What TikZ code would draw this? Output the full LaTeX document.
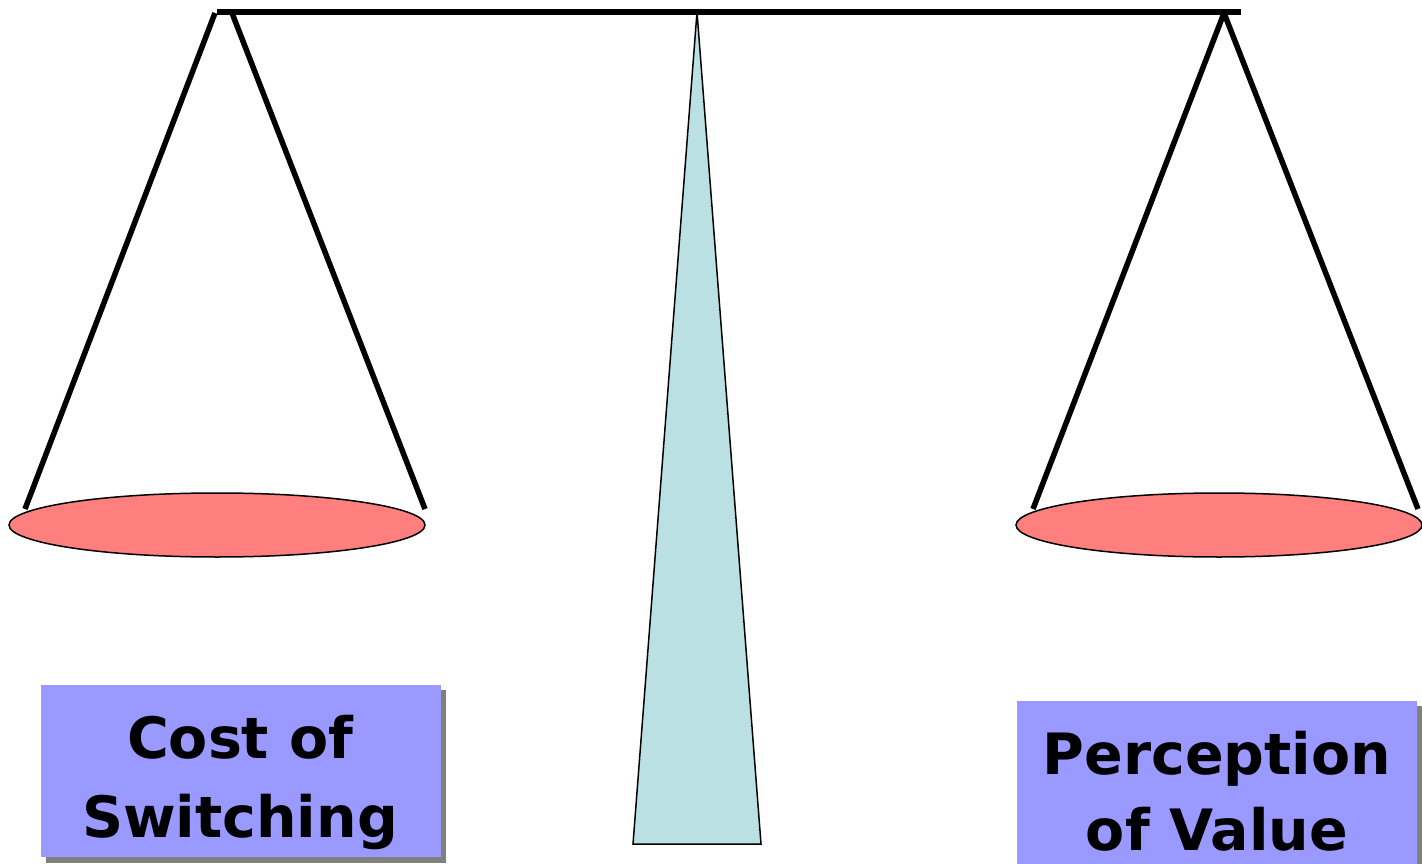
\documentclass[tikz,border=0pt]{standalone}
\usepackage{fontspec}
\newfontfamily\labelfont{DejaVu Sans}
\definecolor{panred}{RGB}{255,127,127}
\definecolor{postblue}{RGB}{187,224,227}
\definecolor{boxblue}{RGB}{153,153,255}
\definecolor{shadowgray}{RGB}{128,128,128}
\tikzset{
  string/.style={line width=5.5pt},
  beam/.style={line width=6.5pt},
  pan/.style={draw=black, line width=1.5pt, fill=panred},
  post/.style={draw=black, line width=1.5pt, fill=postblue, line join=miter},
  labeltext/.style={font=\labelfont\bfseries\fontsize{57}{70}\selectfont, anchor=base, inner sep=0pt}
}
\begin{document}
\begin{tikzpicture}[x=1pt,y=-1pt]
\useasboundingbox (0,0) rectangle (1422,864);
\begin{scope}
\clip (0,0) rectangle (1422,864);
% post
\coordinate (apex) at (697,12);
\coordinate (baseL) at (633,844);
\coordinate (baseR) at (761,844);
\draw[post] (apex) -- (baseR) -- (baseL) -- cycle;
% beam
\coordinate (beamL) at (217,12);
\coordinate (beamR) at (1241,12);
\draw[beam] (beamL) -- (beamR);
% left strings
\coordinate (lhookA) at (215,13);
\coordinate (lhookB) at (232,13);
\coordinate (lpanA) at (25,509);
\coordinate (lpanB) at (425,509);
\draw[string] (lhookA) -- (lpanA);
\draw[string] (lhookB) -- (lpanB);
% right strings
\coordinate (rhook) at (1224,13);
\coordinate (rpanA) at (1033,509);
\coordinate (rpanB) at (1418,509);
\draw[string] (rhook) -- (rpanA);
\draw[string] (rhook) -- (rpanB);
% pans
\draw[pan] (217,525) ellipse [x radius=208, y radius=32];
\draw[pan] (1219,525) ellipse [x radius=203, y radius=32];
% left box
\fill[shadowgray] (46,690) rectangle (446,863);
\fill[boxblue] (41,685) rectangle (441,857);
\node[labeltext] (costA) at (240,758) {Cost of};
\node[labeltext] (costB) at (240,837) {Switching};
% right box
\fill[shadowgray] (1022,706) rectangle (1422,870);
\fill[boxblue] (1017,701) rectangle (1417,870);
\node[labeltext] (percA) at (1217,774) {Perception};
\node[labeltext] (percB) at (1217,850) {of Value};
\end{scope}
\end{tikzpicture}
\end{document}
